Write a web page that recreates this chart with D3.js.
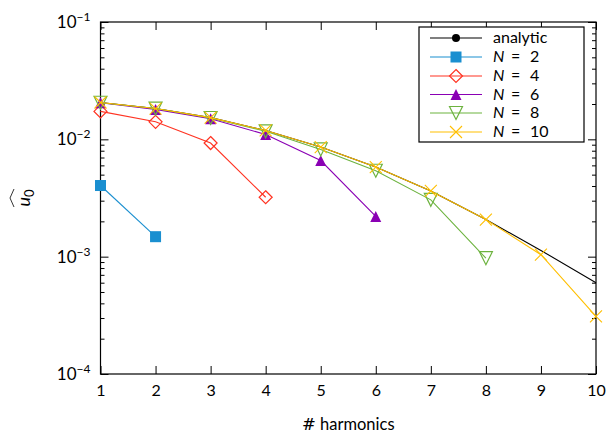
<!DOCTYPE html>
<html>
<head>
<meta charset="utf-8">
<script src="https://cdn.jsdelivr.net/npm/d3@7"></script>
<style>
  body { margin: 0; background: #fff; }
  svg { display: block; }
  text { font-family: "Lato", "DejaVu Sans", sans-serif; fill: #000; }
</style>
</head>
<body>
<svg id="chart" width="610" height="435"></svg>
<script>
// ---------------- data ----------------
const harmonics = [1, 2, 3, 4, 5, 6, 7, 8, 9, 10];
const analytic = [0.0206, 0.0183, 0.0153, 0.0119, 0.0086, 0.0058, 0.00363, 0.00207, 0.00113, 0.00060];
const n2  = [0.00404, 0.00148];
const n4  = [0.0173, 0.0141, 0.0093, 0.00321];
const n6  = [0.0205, 0.0180, 0.0150, 0.0110, 0.0066, 0.0022];
const n8  = [0.0205, 0.0183, 0.0152, 0.0117, 0.0082, 0.0054, 0.00305, 0.00097];
const n10 = [0.0206, 0.0183, 0.0153, 0.0119, 0.0086, 0.0058, 0.00363, 0.00207, 0.00104, 0.00031];
const xTicks = [1, 2, 3, 4, 5, 6, 7, 8, 9, 10];
const yMajor = [1e-4, 1e-3, 1e-2, 1e-1];
const yTickExp = ["−4", "−3", "−2", "−1"];
const seriesNames = ["analytic", "2", "4", "6", "8", "10"];

const series = [
  { name: seriesNames[0], values: analytic, color: "#000000", marker: "dot",   plotMarkers: false },
  { name: seriesNames[1], values: n2,       color: "#1a8fd0", marker: "square", plotMarkers: true },
  { name: seriesNames[2], values: n4,       color: "#ff3322", marker: "diamond", plotMarkers: true },
  { name: seriesNames[3], values: n6,       color: "#8a00b4", marker: "triup", plotMarkers: true },
  { name: seriesNames[4], values: n8,       color: "#6db33f", marker: "tridown", plotMarkers: true },
  { name: seriesNames[5], values: n10,      color: "#ffbf00", marker: "cross", plotMarkers: true }
];

// ---------------- layout ----------------
const svg = d3.select("#chart");
const L = 100.5, R = 596, T = 22, B = 374;

const x = d3.scaleLinear().domain([1, 10]).range([L, R]);
const y = d3.scaleLog().domain([1e-4, 1e-1]).range([B, T]);

const yMinor = y.ticks().filter(v => !yMajor.some(m => Math.abs(m - v) / m < 1e-6));

function styleAxis(g) {
  g.select(".domain").remove();
  g.selectAll("line").attr("stroke", "#000").attr("stroke-width", 1);
}
svg.append("g").attr("transform", `translate(0,${B})`)
  .call(d3.axisBottom(x).tickValues(xTicks).tickSize(-8).tickPadding(11).tickFormat(d3.format("d")))
  .call(styleAxis)
  .call(g => g.selectAll("text").attr("font-size", 16).attr("font-family", "Lato, DejaVu Sans, sans-serif").attr("fill", "#000"));
svg.append("g").attr("transform", `translate(0,${T})`)
  .call(d3.axisTop(x).tickValues(xTicks).tickSize(-8).tickFormat(""))
  .call(styleAxis);
svg.append("g").attr("transform", `translate(${L},0)`)
  .call(d3.axisLeft(y).tickValues(yMajor).tickSize(-8).tickFormat(""))
  .call(styleAxis);
svg.append("g").attr("transform", `translate(${L},0)`)
  .call(d3.axisLeft(y).tickValues(yMinor).tickSize(-4).tickFormat(""))
  .call(styleAxis);
svg.append("g").attr("transform", `translate(${R},0)`)
  .call(d3.axisRight(y).tickValues(yMajor).tickSize(-8).tickFormat(""))
  .call(styleAxis);
svg.append("g").attr("transform", `translate(${R},0)`)
  .call(d3.axisRight(y).tickValues(yMinor).tickSize(-4).tickFormat(""))
  .call(styleAxis);

// y tick labels 10^k
yMajor.forEach((v, i) => {
  const t = svg.append("text")
    .attr("x", L - 10).attr("y", y(v) + 6)
    .attr("text-anchor", "end").attr("font-size", 17);
  t.append("tspan").text("10");
  t.append("tspan").attr("dy", -7).attr("font-size", 12).text(yTickExp[i]);
});

// x label
const xl = svg.append("text").attr("x", (L + R) / 2).attr("y", 430)
  .attr("text-anchor", "middle").attr("font-size", 16.5);
xl.append("tspan").attr("font-family", "DejaVu Serif, serif").text("#");
xl.append("tspan").text(" harmonics");

// y label: widehat u_0
const yl = svg.append("g").attr("transform", `translate(27,${(T + B) / 2}) rotate(-90)`);
const ylt = yl.append("text").attr("text-anchor", "middle").attr("font-size", 18).attr("y", 3);
ylt.append("tspan").attr("font-style", "italic").text("u");
ylt.append("tspan").attr("dy", 4).attr("font-size", 13).text("0");
yl.append("path").attr("d", "M-9,-13 L0,-17 L9,-13").attr("fill", "none").attr("stroke", "#000").attr("stroke-width", 0.8);

// frame
svg.append("rect").attr("x", L).attr("y", T).attr("width", R - L).attr("height", B - T)
  .attr("fill", "none").attr("stroke", "#000").attr("stroke-width", 1.2);

// markers
function drawMarker(g, type, color, cx, cy) {
  if (type === "dot") {
    g.append("circle").attr("cx", cx).attr("cy", cy).attr("r", 4).attr("fill", color);
  } else if (type === "square") {
    g.append("rect").attr("x", cx - 5.5).attr("y", cy - 5.5).attr("width", 11).attr("height", 11).attr("fill", color);
  } else if (type === "diamond") {
    const r = 6.5;
    g.append("path").attr("d", `M${cx},${cy - r}L${cx + r},${cy}L${cx},${cy + r}L${cx - r},${cy}Z`)
      .attr("fill", "none").attr("stroke", color).attr("stroke-width", 1.2);
  } else if (type === "triup") {
    const r = 5.5;
    g.append("path").attr("d", `M${cx},${cy - r}L${cx + r},${cy + r}L${cx - r},${cy + r}Z`).attr("fill", color);
  } else if (type === "tridown") {
    const r = 6.5;
    g.append("path").attr("d", `M${cx},${cy + r}L${cx + r},${cy - r}L${cx - r},${cy - r}Z`)
      .attr("fill", "none").attr("stroke", color).attr("stroke-width", 1.2);
  } else if (type === "cross") {
    const r = 6;
    g.append("path").attr("d", `M${cx - r},${cy - r}L${cx + r},${cy + r}M${cx - r},${cy + r}L${cx + r},${cy - r}`)
      .attr("fill", "none").attr("stroke", color).attr("stroke-width", 1.1);
  }
}

const line = d3.line().x((d, i) => x(harmonics[i])).y(d => y(d));
const plot = svg.append("g");
series.forEach(s => {
  plot.append("path").datum(s.values).attr("d", line)
    .attr("fill", "none").attr("stroke", s.color).attr("stroke-width", 1.1);
  if (s.plotMarkers) {
    const mg = plot.append("g");
    s.values.forEach((v, i) => drawMarker(mg, s.marker, s.color, x(harmonics[i]), y(v)));
  }
});

// legend
const lg = svg.append("g");
lg.append("rect").attr("x", 419).attr("y", 27).attr("width", 165).attr("height", 115)
  .attr("fill", "#fff").attr("stroke", "#000").attr("stroke-width", 1.2);
const rowY = [38, 57, 76, 94.5, 113, 132];
series.forEach((s, i) => {
  const yy = rowY[i];
  lg.append("line").attr("x1", 430).attr("x2", 482).attr("y1", yy).attr("y2", yy)
    .attr("stroke", s.color).attr("stroke-width", 1.1);
  drawMarker(lg, s.marker, s.color, 456, yy);
  if (i === 0) {
    lg.append("text").attr("x", 493).attr("y", yy + 5).attr("font-size", 16).text(s.name);
  } else {
    lg.append("text").attr("x", 493).attr("y", yy + 5).attr("font-size", 16)
      .attr("font-style", "italic").text("N");
    lg.append("text").attr("x", 511).attr("y", yy + 5).attr("font-size", 16)
      .attr("font-family", "DejaVu Sans, sans-serif").text("=");
    lg.append("text").attr("x", 530).attr("y", yy + 5).attr("font-size", 16).text(s.name);
  }
});
</script>
</body>
</html>
